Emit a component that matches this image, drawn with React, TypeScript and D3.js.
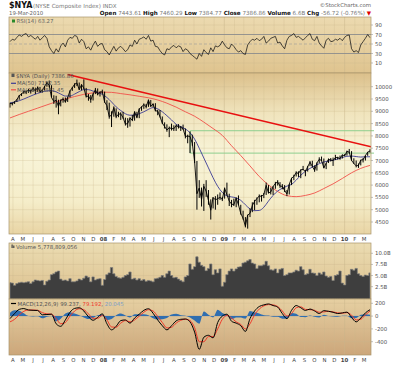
import * as d3 from "d3";

// weekly grid (Fridays) 23-Mar-2007 .. 19-Mar-2010
const weeks = d3.timeFriday.range(new Date(2007, 2, 23), new Date(2010, 2, 20));

// weekly price bars
const closes = [
  9320, 9310, 9380, 9480, 9640, 9700, 9800, 9780, 9870, 9810, 9950, 9820, 9980, 9800, 9850, 10010, 10170, 10050, 9560, 9400,
  9450, 9200, 9450, 9500, 9380, 9560, 9830, 9960, 10100, 10150, 9880, 10080, 9950, 9600, 9620, 9460, 9700, 9880, 9680, 9780, 9790,
  9380, 9230, 8780, 8850, 9150, 8780, 8880, 8900, 8740, 8480, 8500, 8720, 8640, 8980, 8750, 9100, 9170, 9280, 9180, 9460,
  9200, 9300, 9020, 9010, 8780, 8520, 8380, 8240, 8330, 8300, 8290, 8420, 8370, 8350, 8290, 7980, 7990, 7980, 7700, 6950,
  5650, 5880, 5420, 5950, 5750, 5380, 4980, 5500, 5400, 5450, 5500, 5420,
  5870, 5610, 5350, 5230, 5200, 5470, 5200, 4850, 4650, 4330, 4780, 4850, 5170, 5340, 5450, 5560, 5540, 5620, 5990, 5680,
  5720, 5940, 6070, 6130, 5960, 5950, 5780, 5640, 6030, 6280, 6350, 6510, 6470, 6620, 6640, 6550, 6750, 6930, 6760, 6600,
  6900, 7050, 7000, 6700, 6880, 7050, 7020, 7000, 7120, 7120, 7080, 7230, 7185,
  7370, 7340, 7000, 6880, 6780, 6800, 7020, 7030, 7200, 7340, 7387,
];
const highs = [
  9350, 9360, 9400, 9500, 9660, 9730, 9830, 9850, 9900, 9880, 9990, 9960, 10010, 9990, 9900, 10030, 10200, 10250, 10060, 9650,
  9630, 9470, 9480, 9560, 9560, 9580, 9850, 9990, 10140, 10290, 10170, 10100, 10300, 9950, 9700, 9660, 9730, 9950, 9930, 9810, 9880,
  9800, 9450, 9350, 9000, 9200, 9120, 8980, 8960, 8980, 8740, 8720, 8760, 8850, 9000, 8980, 9120, 9200, 9320, 9300, 9480,
  9460, 9320, 9330, 9060, 9050, 8790, 8550, 8470, 8380, 8500, 8430, 8460, 8480, 8400, 8460, 8300, 8050, 8180, 8050, 7750,
  6980, 6200, 5900, 6050, 6200, 5800, 5420, 5500, 5550, 5620, 5700, 5520,
  5900, 6100, 5650, 5400, 5450, 5500, 5580, 5200, 4960, 4700, 4800, 5050, 5300, 5400, 5500, 5620, 5600, 5680, 6100, 6000,
  5900, 5960, 6130, 6200, 6120, 6040, 6000, 5800, 6040, 6300, 6420, 6560, 6560, 6640, 6780, 6620, 6780, 6980, 6990, 6800,
  6920, 7130, 7160, 7080, 6900, 7080, 7100, 7120, 7230, 7150, 7200, 7240, 7260,
  7400, 7470, 7380, 7090, 7000, 6880, 7030, 7100, 7210, 7350, 7460,
];
const lows = [
  9150, 9240, 9300, 9380, 9470, 9620, 9710, 9700, 9750, 9720, 9800, 9700, 9790, 9760, 9760, 9850, 10000, 9980, 9560, 9300,
  9150, 8880, 9200, 9350, 9350, 9380, 9560, 9830, 9950, 10030, 9870, 9850, 9900, 9560, 9430, 9350, 9440, 9700, 9650, 9600, 9720,
  9350, 9050, 8700, 8360, 8780, 8720, 8760, 8650, 8700, 8420, 8330, 8380, 8600, 8620, 8720, 8720, 9020, 9100, 9120, 9180,
  9180, 9180, 9000, 8840, 8750, 8480, 8300, 8170, 7950, 8220, 8200, 8200, 8300, 8200, 8250, 7900, 7700, 7300, 7600, 6900,
  5000, 5480, 5130, 4950, 5520, 5200, 4600, 5050, 5000, 5200, 5400, 5350,
  5450, 5580, 5150, 5100, 5150, 5100, 5180, 4800, 4600, 4280, 4230, 4700, 4900, 4980, 5200, 5300, 5330, 5470, 5600, 5660,
  5620, 5600, 5850, 5980, 5890, 5830, 5720, 5550, 5620, 6000, 6200, 6350, 6330, 6280, 6600, 6360, 6550, 6770, 6730, 6540,
  6590, 6900, 6970, 6680, 6650, 6900, 6960, 6780, 7020, 7040, 7030, 7080, 7180,
  7200, 7280, 6990, 6860, 6720, 6700, 6800, 6920, 7000, 7190, 7320,
];
// weekly volume, billions
const volumes = [
  3.4, 3.3, 2.8, 3.2, 3.4, 3.5, 3.4, 3.5, 3.6, 3.2, 3.6, 4.0, 3.9, 3.8, 3.9, 2.9, 3.7, 4.0, 5.2, 5.4,
  5.8, 6.0, 4.2, 3.9, 4.0, 3.8, 4.3, 3.6, 3.6, 3.8, 4.2, 4.0, 4.4, 4.9, 4.6, 3.6, 4.7, 4.0, 4.2, 4.3, 2.8,
  4.1, 5.2, 5.6, 6.8, 5.4, 4.8, 4.5, 4.4, 4.6, 5.0, 5.2, 5.8, 4.2, 4.4, 4.0, 4.3, 3.9, 4.1, 3.7, 3.9,
  3.8, 3.6, 4.3, 4.4, 4.6, 5.0, 4.6, 5.4, 6.0, 5.0, 4.5, 4.6, 4.2, 3.9, 3.6, 4.7, 5.0, 7.6, 6.4, 7.0,
  9.2, 8.0, 7.3, 7.0, 6.1, 6.6, 7.6, 5.2, 6.3, 5.6, 6.5, 2.6,
  3.5, 5.2, 6.0, 6.5, 6.0, 6.5, 6.9, 7.0, 7.8, 8.0, 8.3, 8.6, 7.8, 7.6, 6.6, 7.2, 7.2, 7.4, 8.2, 7.2,
  6.3, 6.2, 6.5, 5.6, 6.4, 6.6, 5.0, 5.2, 5.6, 5.6, 5.8, 6.2, 6.0, 7.0, 6.3, 5.2, 5.4, 6.4, 5.6, 5.5,
  5.0, 5.6, 5.3, 5.8, 4.9, 4.6, 4.8, 3.9, 5.0, 5.2, 6.0, 3.3, 2.9,
  5.0, 5.2, 6.4, 6.2, 6.6, 5.4, 5.0, 4.8, 5.1, 5.0, 5.6,
];
// weekly RSI(14)
const rsi = [
  55, 60, 58, 64, 69, 66, 70, 72, 65, 68, 64, 60, 66, 58, 63, 68, 62, 44, 36, 30,
  40, 33, 46, 52, 44, 58, 64, 62, 68, 66, 52, 60, 55, 40, 44, 37, 48, 56, 45, 50,
  51, 38, 34, 27, 36, 45, 35, 42, 45, 40, 34, 38, 48, 45, 58, 50, 60, 62, 65, 60,
  68, 56, 58, 45, 44, 36, 30, 27, 40, 38, 44, 47, 42, 46, 44, 34, 40, 37, 30, 26,
  22, 18, 30, 24, 38, 32, 28, 42, 34, 46, 44, 47, 56, 48, 42, 40, 50, 45, 38, 33,
  36, 30, 28, 48, 55, 60, 58, 62, 57, 60, 66, 52, 56, 62, 64, 66, 52, 54, 46, 40,
  58, 66, 68, 72, 64, 66, 62, 58, 63, 68, 72, 60, 57, 66, 52, 46, 41, 58, 62, 55,
  56, 60, 58, 62, 57, 64, 68, 69, 40, 33, 36, 32, 48, 55, 62, 70, 63.27,
];
// every second week
const ma50 = [
  9340, 9380, 9430, 9500, 9580, 9660, 9730, 9790, 9830, 9840, 9790, 9700, 9620, 9620, 9700, 9800, 9880, 9880, 9820, 9760,
  9690, 9560, 9380, 9180, 9030, 8900, 8840, 8850, 8900, 8980, 9080, 9150, 9100, 8980, 8820, 8650, 8470, 8380, 8280, 8130,
  7870, 7500, 7100, 6700, 6300, 5950, 5700, 5560, 5520, 5480, 5380, 5200, 5030, 4960, 4970, 5100, 5350, 5580, 5760, 5870,
  5960, 6030, 6200, 6400, 6560, 6680, 6780, 6870, 6940, 6980, 7010, 7060, 7120, 7170, 7180, 7160, 7140, 7150, 7152,
];
const macd = [
  -40, 40, 105, 118, 95, 90, 88, 20, 25, 30, -120, -160, -60, 60, 120, 130, 80, -10, -65, -20,
  35, -120, -215, -160, -70, -60, -110, -30, 30, 90, 115, 45, -60, -150, -215, -150, -75, -50, -45, -90,
  -250, -520, -330, -300, -340, -100, 0, 30, -80, -110, -150, -240, -40, 80, 150, 175, 190, 165, 140, 40,
  -40, 90, 165, 130, 88, 110, 80, 40, 85, 75, 60, 40, 50, 62, -20, -90, -30, 50, 99.237,
];
const signal = [
  -90, -50, 20, 75, 95, 95, 90, 55, 35, 30, -40, -120, -100, 0, 80, 115, 100, 35, -35, -35,
  10, -60, -170, -175, -110, -70, -90, -60, 0, 60, 100, 80, -5, -100, -185, -175, -110, -65, -50, -70,
  -180, -400, -400, -320, -320, -200, -50, 10, -30, -90, -130, -200, -120, 20, 110, 160, 180, 175, 150, 80,
  0, 40, 130, 145, 105, 100, 90, 60, 65, 75, 65, 50, 45, 55, 15, -60, -50, 20, 79.192,
];
// every fourth week
const ma200 = [
  8730, 8870, 9000, 9130, 9260, 9390, 9500, 9600, 9690, 9750, 9780, 9770, 9720, 9670, 9610, 9550, 9460, 9330, 9170, 8980,
  8800, 8560, 8300, 8020, 7600, 7200, 6780, 6350, 6010, 5740, 5570, 5530, 5580, 5680, 5860, 6050, 6270, 6500, 6680, 6801,
];

const priceTicks = [4500, 5000, 5500, 6000, 6500, 7000, 7500, 8000, 8500, 9000, 9500, 10000];
const rsiTicks = [10, 30, 50, 70, 90];
const volTicks = [2.5, 5, 7.5, 10];
const volTickLabels = ["2.5B", "5.0B", "7.5B", "10.0B"];
const macdTicks = [-400, -200, 0, 200];
const monthLetters = ["J", "F", "M", "A", "M", "J", "J", "A", "S", "O", "N", "D"];

const trendFrom = { date: new Date(2007, 8, 14), value: 10500 };
const trendTo = { date: new Date(2010, 2, 22), value: 7560 };
const supportFrom = new Date(2008, 8, 20);
const supportLevels = [8210, 7300];

const X0 = 9;
const X1 = 371;
const RSI_TOP = 17, RSI_BOT = 73;
const MAIN_TOP = 73, MAIN_BOT = 234;
const VOL_TOP = 243, VOL_BOT = 299;
const MACD_TOP = 299, MACD_BOT = 355;
const FONT = "DejaVu Sans";

export default function App() {
  const x = d3.scaleTime().domain([new Date(2007, 2, 20), new Date(2010, 2, 22)]).range([X0, X1]);
  const yRsi = d3.scaleLinear().domain([10, 90]).range([63, 25]);
  const yPrice = d3.scaleLinear().domain([4500, 10000]).range([222, 86.7]);
  const yVol = d3.scaleLinear().domain([0, 10]).range([297.8, 253.3]);
  const yMacd = d3.scaleLinear().domain([-400, 200]).range([341.7, 303.3]);

  const weeks2 = weeks.filter((_, i) => i % 2 === 0);
  const weeks4 = weeks.filter((_, i) => i % 4 === 0);
  const months = d3.timeMonth.range(new Date(2007, 3, 1), new Date(2010, 3, 1));
  const barW = x(weeks[1]) - x(weeks[0]);

  const closeLine = d3.line<number>().x((_, i) => x(weeks[i])).y((d) => yPrice(d))(closes)!;
  const ma50Line = d3.line<number>().curve(d3.curveMonotoneX).x((_, i) => x(weeks2[i])).y((d) => yPrice(d))(ma50)!;
  const ma200Line = d3.line<number>().curve(d3.curveMonotoneX).x((_, i) => x(weeks4[i])).y((d) => yPrice(d))(ma200)!;
  const rsiLine = d3.line<number>().x((_, i) => x(weeks[i])).y((d) => yRsi(d))(rsi)!;
  const macdLine = d3.line<number>().curve(d3.curveMonotoneX).x((_, i) => x(weeks2[i])).y((d) => yMacd(d))(macd)!;
  const sigLine = d3.line<number>().curve(d3.curveMonotoneX).x((_, i) => x(weeks2[i])).y((d) => yMacd(d))(signal)!;
  const hist = d3
    .area<number>()
    .curve(d3.curveMonotoneX)
    .x((_, i) => x(weeks2[i]))
    .y0(yMacd(0))
    .y1((d, i) => yMacd(d - signal[i]))(macd)!;
  const volArea = d3
    .area<number>()
    .curve(d3.curveStep)
    .x((_, i) => x(weeks[i]))
    .y0(VOL_BOT)
    .y1((d) => yVol(d))(volumes)!;

  const grid = "#c9b68c";
  const axisText = { fontFamily: FONT, fontSize: 5.4, fill: "#555" } as const;

  const vGrid = (top: number, bot: number) =>
    months.map((m, i) => (
      <line key={i} x1={x(m)} x2={x(m)} y1={top} y2={bot} stroke={grid} strokeOpacity={m.getMonth() === 0 ? 0.8 : 0.45} strokeWidth={0.6} />
    ));

  const monthLabels = (yy: number) =>
    months.map((m, i) => (
      <text key={i} x={x(m)} y={yy} textAnchor="middle" fontFamily={FONT} fontSize={5.4}
        fontWeight={m.getMonth() === 0 ? "bold" : "normal"} fill="#444">
        {m.getMonth() === 0 ? d3.timeFormat("%y")(m) : monthLetters[m.getMonth()]}
      </text>
    ));

  return (
    <svg width={400} height={365} style={{ position: "absolute", left: 0, top: 0, background: "#fff" }}>
      <defs>
        <linearGradient id="gRsi" x1="0" y1="0" x2="0" y2="1">
          <stop offset="0" stopColor="#ecdab0" />
          <stop offset="1" stopColor="#dfc48f" />
        </linearGradient>
        <linearGradient id="gMain" x1="0" y1="0" x2="0" y2="1">
          <stop offset="0" stopColor="#dcc08b" />
          <stop offset="0.25" stopColor="#f0e4bd" />
          <stop offset="0.5" stopColor="#f8f4d8" />
          <stop offset="0.8" stopColor="#f5edc9" />
          <stop offset="1" stopColor="#e8d4a4" />
        </linearGradient>
        <linearGradient id="gVol" x1="0" y1="0" x2="0" y2="1">
          <stop offset="0" stopColor="#ebdcb2" />
          <stop offset="1" stopColor="#dcc08e" />
        </linearGradient>
        <linearGradient id="gMacd" x1="0" y1="0" x2="0" y2="1">
          <stop offset="0" stopColor="#e6d0a2" />
          <stop offset="1" stopColor="#cca67a" />
        </linearGradient>
        <clipPath id="cMain"><rect x={X0} y={MAIN_TOP} width={X1 - X0} height={MAIN_BOT - MAIN_TOP} /></clipPath>
        <clipPath id="cVol"><rect x={X0} y={VOL_TOP} width={X1 - X0} height={VOL_BOT - VOL_TOP} /></clipPath>
        <clipPath id="cMacd"><rect x={X0} y={MACD_TOP} width={X1 - X0} height={MACD_BOT - MACD_TOP} /></clipPath>
      </defs>

      {/* header */}
      <text x={9} y={7.5} fontFamily={FONT} fontSize={8} fontWeight="bold" fill="#111">$NYA</text>
      <text x={33} y={7.5} fontFamily={FONT} fontSize={5.6} fill="#777">(NYSE Composite Index) INDX</text>
      <text x={371} y={7} textAnchor="end" fontFamily={FONT} fontSize={5.4} fill="#666">©StockCharts.com</text>
      <text x={9} y={15} fontFamily={FONT} fontSize={5.4} fill="#666">19-Mar-2010</text>
      <text x={371} y={15} textAnchor="end" fontFamily={FONT} fontSize={5.6} fill="#777">
        <tspan fontWeight="bold" fill="#111">Open</tspan> 7443.61 <tspan fontWeight="bold" fill="#111">High</tspan> 7460.29{" "}
        <tspan fontWeight="bold" fill="#111">Low</tspan> 7384.77 <tspan fontWeight="bold" fill="#111">Close</tspan> 7386.86{" "}
        <tspan fontWeight="bold" fill="#111">Volume</tspan> 6.6B <tspan fontWeight="bold" fill="#111">Chg</tspan> -56.72 (-0.76%){" "}
        <tspan fill="#d00">▼</tspan>
      </text>

      {/* RSI panel */}
      <rect x={X0} y={RSI_TOP} width={X1 - X0} height={RSI_BOT - RSI_TOP} fill="url(#gRsi)" />
      {vGrid(RSI_TOP, RSI_BOT)}
      {rsiTicks.map((t) => (
        <g key={t}>
          <line x1={X0} x2={X1} y1={yRsi(t)} y2={yRsi(t)}
            stroke={t === 70 || t === 30 ? "#8c8c8c" : t === 50 ? "#9a9a9a" : grid}
            strokeOpacity={t === 70 || t === 30 || t === 50 ? 1 : 0.5}
            strokeDasharray={t === 50 ? "3,2" : undefined} strokeWidth={t === 70 || t === 30 ? 0.9 : 0.6} />
          <line x1={X1} x2={X1 + 2} y1={yRsi(t)} y2={yRsi(t)} stroke="#999" strokeWidth={0.6} />
          <text x={X1 + 4} y={yRsi(t) + 2} {...axisText}>{t}</text>
        </g>
      ))}
      <path d={rsiLine} fill="none" stroke="#111" strokeWidth={0.75} />
      <rect x={12} y={19.5} width={3} height={3} fill="#2a8a2a" />
      <text x={16.5} y={23} fontFamily={FONT} fontSize={5.4} fill="#666">RSI(14) 63.27</text>
      <rect x={X0} y={RSI_TOP} width={X1 - X0} height={RSI_BOT - RSI_TOP} fill="none" stroke="#a8946c" strokeWidth={0.7} />

      {/* price panel */}
      <rect x={X0} y={MAIN_TOP} width={X1 - X0} height={MAIN_BOT - MAIN_TOP} fill="url(#gMain)" />
      {vGrid(MAIN_TOP, MAIN_BOT)}
      {priceTicks.map((t) => (
        <g key={t}>
          <line x1={X0} x2={X1} y1={yPrice(t)} y2={yPrice(t)} stroke={grid} strokeOpacity={0.45} strokeWidth={0.6} />
          <line x1={X1} x2={X1 + 2} y1={yPrice(t)} y2={yPrice(t)} stroke="#999" strokeWidth={0.6} />
          <text x={X1 + 4} y={yPrice(t) + 2} {...axisText}>{t}</text>
        </g>
      ))}
      <g clipPath="url(#cMain)">
        {supportLevels.map((s) => (
          <line key={s} x1={x(supportFrom)} x2={X1} y1={yPrice(s)} y2={yPrice(s)} stroke="#8fcf8f" strokeWidth={1} />
        ))}
        <line x1={x(supportFrom)} x2={x(supportFrom)} y1={yPrice(supportLevels[0])} y2={yPrice(supportLevels[1])} stroke="#8fcf8f" strokeWidth={1} />
        <path d={ma200Line} fill="none" stroke="#f0504a" strokeWidth={0.9} />
        <path d={ma50Line} fill="none" stroke="#3b3b95" strokeWidth={0.9} />
        {weeks.map((w, i) => (
          <line key={i} x1={x(w)} x2={x(w)} y1={yPrice(lows[i])} y2={yPrice(highs[i])} stroke="#000" strokeWidth={1} />
        ))}
        <path d={closeLine} fill="none" stroke="#000" strokeWidth={0.9} />
        <line x1={x(trendFrom.date)} x2={x(trendTo.date)} y1={yPrice(trendFrom.value)} y2={yPrice(trendTo.value)}
          stroke="#e81010" strokeWidth={1.5} />
      </g>
      {supportLevels.map((s) => (
        <line key={s} x1={X1} x2={X1 + 3} y1={yPrice(s)} y2={yPrice(s)} stroke="#8fcf8f" strokeWidth={1} />
      ))}
      <rect x={11.5} y={73.5} width={3} height={3.5} fill="#555" />
      <text x={16} y={78} fontFamily={FONT} fontSize={5.4} fill="#555">$NYA (Daily) 7386.86</text>
      <line x1={11} x2={16} y1={83.3} y2={83.3} stroke="#3b3b95" strokeWidth={1.2} />
      <text x={17} y={85} fontFamily={FONT} fontSize={5.4} fill="#555">MA(50) 7152.35</text>
      <line x1={11} x2={16} y1={89.8} y2={89.8} stroke="#f0504a" strokeWidth={1.2} />
      <text x={17} y={91.5} fontFamily={FONT} fontSize={5.4} fill="#555">MA(200) 6801.45</text>
      <rect x={X0} y={MAIN_TOP} width={X1 - X0} height={MAIN_BOT - MAIN_TOP} fill="none" stroke="#a8946c" strokeWidth={0.7} />

      {monthLabels(241)}

      {/* volume panel */}
      <rect x={X0} y={VOL_TOP} width={X1 - X0} height={VOL_BOT - VOL_TOP} fill="url(#gVol)" />
      {vGrid(VOL_TOP, VOL_BOT)}
      {volTicks.map((t, i) => (
        <g key={t}>
          <line x1={X0} x2={X1} y1={yVol(t)} y2={yVol(t)} stroke={grid} strokeOpacity={0.5} strokeWidth={0.6} />
          <line x1={X1} x2={X1 + 2} y1={yVol(t)} y2={yVol(t)} stroke="#999" strokeWidth={0.6} />
          <text x={X1 + 4} y={yVol(t) + 2} {...axisText}>{volTickLabels[i]}</text>
        </g>
      ))}
      <g clipPath="url(#cVol)">
        <path d={volArea} fill="#3e3e3e" stroke="#7c7c7c" strokeWidth={0.7} />
      </g>
      <rect x={11.5} y={244.5} width={1.2} height={3.5} fill="#444" />
      <rect x={13.2} y={245.5} width={1.2} height={2.5} fill="#444" />
      <text x={16} y={248.5} fontFamily={FONT} fontSize={5.4} fill="#555">Volume 5,778,809,056</text>
      <rect x={X0} y={VOL_TOP} width={X1 - X0} height={VOL_BOT - VOL_TOP} fill="none" stroke="#a8946c" strokeWidth={0.7} />

      {/* MACD panel */}
      <rect x={X0} y={MACD_TOP} width={X1 - X0} height={MACD_BOT - MACD_TOP} fill="url(#gMacd)" />
      {vGrid(MACD_TOP, MACD_BOT)}
      {macdTicks.map((t) => (
        <g key={t}>
          <line x1={X0} x2={X1} y1={yMacd(t)} y2={yMacd(t)} stroke={t === 0 ? "#a0a0a0" : grid} strokeOpacity={t === 0 ? 0.9 : 0.5} strokeWidth={0.6} />
          <line x1={X1} x2={X1 + 2} y1={yMacd(t)} y2={yMacd(t)} stroke="#999" strokeWidth={0.6} />
          <text x={X1 + 4} y={yMacd(t) + 2} {...axisText}>{t}</text>
        </g>
      ))}
      <g clipPath="url(#cMacd)">
        <path d={hist} fill="#2f6eb0" />
        <path d={sigLine} fill="none" stroke="#f03a2a" strokeWidth={1} />
        <path d={macdLine} fill="none" stroke="#000" strokeWidth={1} />
      </g>
      <line x1={11} x2={16} y1={303.5} y2={303.5} stroke="#000" strokeWidth={1.2} />
      <text x={17.5} y={305.5} fontFamily={FONT} fontSize={5.4} fill="#555">
        MACD(12,26,9) 99.237, <tspan fill="#f04030">79.192</tspan>, <tspan fill="#7da0c8">20.045</tspan>
      </text>
      <rect x={X0} y={MACD_TOP} width={X1 - X0} height={MACD_BOT - MACD_TOP} fill="none" stroke="#a8946c" strokeWidth={0.7} />

      {monthLabels(362)}
    </svg>
  );
}
